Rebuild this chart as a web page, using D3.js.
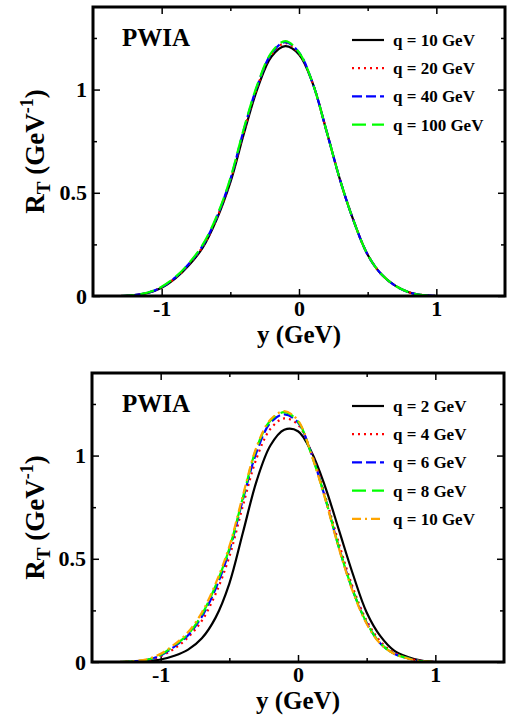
<!DOCTYPE html>
<html>
<head>
<meta charset="utf-8">
<script src="https://cdn.jsdelivr.net/npm/d3@7"></script>
<style>
  body { margin: 0; background: #fff; }
  svg text { font-family: "Liberation Serif", "Times New Roman", serif; font-weight: bold; fill: #000; }
</style>
</head>
<body>
<div id="chart"></div>
<script>
// y values (GeV) shared by all curves
var yGrid = [-1.3, -1.2, -1.1, -1.0, -0.9, -0.8, -0.7, -0.6, -0.5, -0.4, -0.3, -0.2,
             -0.1, 0.0, 0.1, 0.2, 0.3, 0.4, 0.5, 0.6, 0.7, 0.8, 0.9, 1.0];

// top panel: large q
var topLabels = ["q = 10 GeV", "q = 20 GeV", "q = 40 GeV", "q = 100 GeV"];
var topQ10  = [0, 0.004, 0.015, 0.040, 0.085, 0.150, 0.235, 0.370, 0.550, 0.790, 1.010, 1.160, 1.210, 1.170, 1.030, 0.800, 0.560, 0.360, 0.200, 0.105, 0.050, 0.018, 0.004, 0];
var topQ20  = [0, 0.004, 0.016, 0.042, 0.088, 0.155, 0.240, 0.375, 0.560, 0.800, 1.020, 1.170, 1.225, 1.175, 1.030, 0.800, 0.560, 0.360, 0.200, 0.105, 0.050, 0.018, 0.004, 0];
var topQ40  = [0, 0.004, 0.016, 0.043, 0.090, 0.157, 0.245, 0.380, 0.565, 0.810, 1.025, 1.175, 1.230, 1.180, 1.030, 0.800, 0.560, 0.360, 0.200, 0.105, 0.050, 0.018, 0.004, 0];
var topQ100 = [0, 0.005, 0.017, 0.045, 0.092, 0.160, 0.250, 0.385, 0.570, 0.815, 1.030, 1.180, 1.235, 1.180, 1.030, 0.800, 0.560, 0.360, 0.200, 0.105, 0.050, 0.018, 0.004, 0];

// bottom panel: small q
var botLabels = ["q = 2 GeV", "q = 4 GeV", "q = 6 GeV", "q = 8 GeV", "q = 10 GeV"];
var botQ2  = [0, 0.001, 0.004, 0.012, 0.030, 0.060, 0.115, 0.215, 0.380, 0.630, 0.880, 1.050, 1.125, 1.118, 1.015, 0.845, 0.635, 0.425, 0.240, 0.125, 0.055, 0.024, 0.007, 0];
var botQ4  = [0, 0.002, 0.008, 0.028, 0.065, 0.120, 0.200, 0.330, 0.510, 0.760, 0.990, 1.130, 1.180, 1.150, 1.010, 0.800, 0.570, 0.360, 0.200, 0.100, 0.045, 0.019, 0.005, 0];
var botQ6  = [0, 0.003, 0.010, 0.032, 0.075, 0.130, 0.220, 0.355, 0.540, 0.790, 1.020, 1.160, 1.200, 1.160, 1.005, 0.790, 0.550, 0.345, 0.190, 0.090, 0.040, 0.018, 0.004, 0];
var botQ8  = [0, 0.003, 0.011, 0.035, 0.080, 0.135, 0.230, 0.370, 0.550, 0.800, 1.040, 1.170, 1.210, 1.165, 1.000, 0.790, 0.550, 0.345, 0.190, 0.090, 0.040, 0.018, 0.004, 0];
var botQ10 = [0, 0.004, 0.013, 0.040, 0.085, 0.145, 0.240, 0.380, 0.560, 0.810, 1.045, 1.175, 1.215, 1.170, 1.000, 0.785, 0.545, 0.340, 0.185, 0.088, 0.040, 0.017, 0.004, 0];

// tick labels
var xMajor = [-1, 0, 1], xMinor = [-0.5, 0.5];
var yMajor = [0, 0.5, 1], yMinor = [0.25, 0.75, 1.25];

// line styles in legend order
var styles = [
  {color: "#000000", dash: null},
  {color: "#ff0000", dash: "2,4"},
  {color: "#0000ff", dash: "10,4"},
  {color: "#00ff00", dash: "14,6"},
  {color: "#ffa500", dash: "9,4,2,4"}
];

var svg = d3.select("#chart")
  .append("svg")
    .attr("width", 507)
    .attr("height", 717);

function drawPanel(box, series, labels) {
  var x = d3.scaleLinear().domain([-1.5, 1.5]).range([box.left, box.right]);
  var y = d3.scaleLinear().domain([0, 1.4]).range([box.bottom, box.top]);
  var g = svg.append("g");

  // ticks on all 4 sides, pointing inward
  g.append("g").attr("transform", "translate(0," + box.bottom + ")")
    .call(d3.axisBottom(x).tickValues(xMajor).tickSize(-7).tickPadding(4).tickFormat(d => String(d)));
  g.append("g").attr("transform", "translate(0," + box.bottom + ")")
    .call(d3.axisBottom(x).tickValues(xMinor).tickSize(-4).tickFormat(""));
  g.append("g").attr("transform", "translate(0," + box.top + ")")
    .call(d3.axisTop(x).tickValues(xMajor).tickSize(-7).tickFormat(""));
  g.append("g").attr("transform", "translate(0," + box.top + ")")
    .call(d3.axisTop(x).tickValues(xMinor).tickSize(-4).tickFormat(""));
  g.append("g").attr("transform", "translate(" + box.left + ",0)")
    .call(d3.axisLeft(y).tickValues(yMajor).tickSize(-7).tickPadding(6).tickFormat(d => String(d)));
  g.append("g").attr("transform", "translate(" + box.left + ",0)")
    .call(d3.axisLeft(y).tickValues(yMinor).tickSize(-4).tickFormat(""));
  g.append("g").attr("transform", "translate(" + box.right + ",0)")
    .call(d3.axisRight(y).tickValues(yMajor).tickSize(-7).tickFormat(""));
  g.append("g").attr("transform", "translate(" + box.right + ",0)")
    .call(d3.axisRight(y).tickValues(yMinor).tickSize(-4).tickFormat(""));

  g.selectAll(".domain").remove();
  g.selectAll(".tick line").attr("stroke", "#000").attr("stroke-width", 1.5);
  g.selectAll(".tick text").attr("font-size", 22).attr("fill", "#000");

  // curves, drawn from first to last so the big q sits on top
  var line = d3.line()
    .x((d, i) => x(yGrid[i]))
    .y(d => y(d))
    .curve(d3.curveCatmullRom.alpha(0.5));

  series.forEach(function(s, i) {
    g.append("path")
      .attr("d", line(s))
      .attr("fill", "none")
      .attr("stroke", styles[i].color)
      .attr("stroke-width", 2.2)
      .attr("stroke-dasharray", styles[i].dash);
  });

  // frame
  g.append("rect")
    .attr("x", box.left).attr("y", box.top)
    .attr("width", box.right - box.left).attr("height", box.bottom - box.top)
    .attr("fill", "none").attr("stroke", "#000").attr("stroke-width", 3);

  g.append("text")
    .attr("x", 122).attr("y", box.top + 39)
    .attr("font-size", 25)
    .text("PWIA");

  // legend
  labels.forEach(function(lab, i) {
    var ly = box.top + 39 + i * 28.2;
    g.append("line")
      .attr("x1", 352).attr("x2", 384)
      .attr("y1", ly - 6).attr("y2", ly - 6)
      .attr("stroke", styles[i].color)
      .attr("stroke-width", 2.2)
      .attr("stroke-dasharray", styles[i].dash);
    g.append("text")
      .attr("x", 393).attr("y", ly)
      .attr("font-size", 17)
      .text(lab);
  });

  // axis titles
  g.append("text")
    .attr("x", x(0)).attr("y", box.bottom + 47)
    .attr("text-anchor", "middle")
    .attr("font-size", 25)
    .text("y (GeV)");

  var yt = g.append("text")
    .attr("transform", "translate(44," + ((box.top + box.bottom) / 2) + ") rotate(-90)")
    .attr("text-anchor", "middle")
    .attr("font-size", 27);
  yt.append("tspan").text("R");
  yt.append("tspan").attr("font-size", 19).attr("dy", 6).text("T");
  yt.append("tspan").attr("dy", -6).text(" (GeV");
  yt.append("tspan").attr("font-size", 18).attr("dy", -11).text("-1");
  yt.append("tspan").attr("dy", 11).text(")");
}

drawPanel({left: 93, right: 505, top: 7, bottom: 296},
  [topQ10, topQ20, topQ40, topQ100], topLabels);
drawPanel({left: 92, right: 504, top: 373, bottom: 662},
  [botQ2, botQ4, botQ6, botQ8, botQ10], botLabels);
</script>
</body>
</html>
